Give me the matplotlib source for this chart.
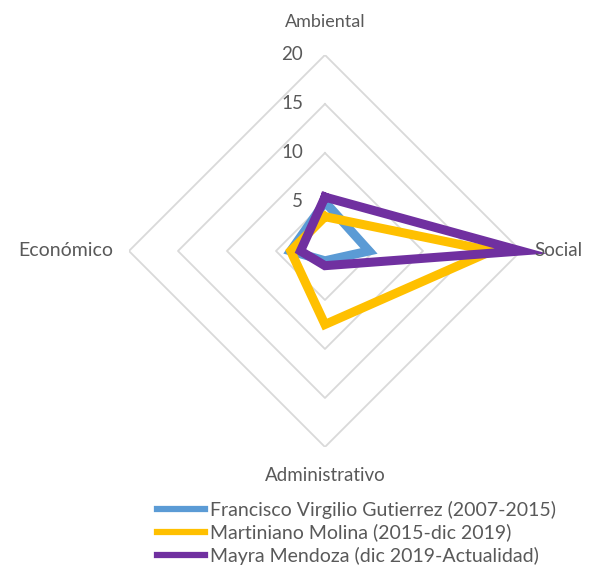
import numpy as np
import matplotlib.pyplot as plt
import matplotlib.patheffects as pe

plt.rcParams['font.family'] = ['Lato', 'DejaVu Sans']

categorias = ["Ambiental", "Social", "Administrativo", "Económico"]
francisco = [5, 4.5, 1, 3.5]
martiniano = [3.5, 17, 7.5, 3.5]
mayra = [5.5, 20, 1.5, 2.5]
series = ["Francisco Virgilio Gutierrez (2007-2015)",
          "Martiniano Molina (2015-dic 2019)",
          "Mayra Mendoza (dic 2019-Actualidad)"]
colores = ["#5B9BD5", "#FFC000", "#7030A0"]
niveles = [5, 10, 15, 20]

gris = "#595959"
fig = plt.figure(figsize=(5.96, 5.71), dpi=100)
ax = fig.add_axes([0.2164, 0.2172, 0.6577, 0.6865], projection="polar")
ax.set_theta_zero_location("N")
ax.set_theta_direction(-1)
ax.set_ylim(0, 20)
ax.set_xticks([])
ax.set_yticks([])
ax.grid(False)
ax.spines["polar"].set_visible(False)
ax.patch.set_visible(False)

ang = np.linspace(0, 2 * np.pi, len(categorias), endpoint=False)
ang_c = np.append(ang, ang[0])

# rejilla en forma de rombo (sin radios)
for r in niveles:
    ax.plot(ang_c, [r] * len(ang_c), color="#D9D9D9", lw=1.3, zorder=1)
    ax.annotate(str(r), xy=(0, r), xytext=(-22, 0), textcoords="offset pixels",
                ha="right", va="center", fontsize=13.5, color=gris)

sombra = [pe.SimpleLineShadow(offset=(2, -2), shadow_color="gray", alpha=0.35),
          pe.Normal()]
for vals, nombre, c in zip([francisco, martiniano, mayra], series, colores):
    v = np.append(vals, vals[0])
    ax.plot(ang_c, v, color=c, lw=6.5, label=nombre, clip_on=False,
            solid_joinstyle="miter", path_effects=sombra, zorder=3)

ax.text(0, 23.4, "Ambiental", ha="center", va="center", fontsize=13, color=gris)
ax.text(np.pi / 2, 21.4, "Social", ha="left", va="center", fontsize=13.5, color=gris)
ax.text(np.pi, 22.9, "Administrativo", ha="center", va="center", fontsize=13.5, color=gris)
ax.text(3 * np.pi / 2, 21.6, "Económico", ha="right", va="center", fontsize=14, color=gris)

h, l = ax.get_legend_handles_labels()
for x in h:
    x.set_path_effects([])
leg = fig.legend(h, l, loc="upper left", bbox_to_anchor=(0.263, 0.123),
                 frameon=False, fontsize=14, handlelength=2.5, handletextpad=0.26,
                 labelspacing=0.25, borderaxespad=0, borderpad=0)
for t in leg.get_texts():
    t.set_color(gris)
for ln in leg.get_lines():
    ln.set_linewidth(4.5)

fig.savefig("out.png", dpi=100, facecolor="white")
